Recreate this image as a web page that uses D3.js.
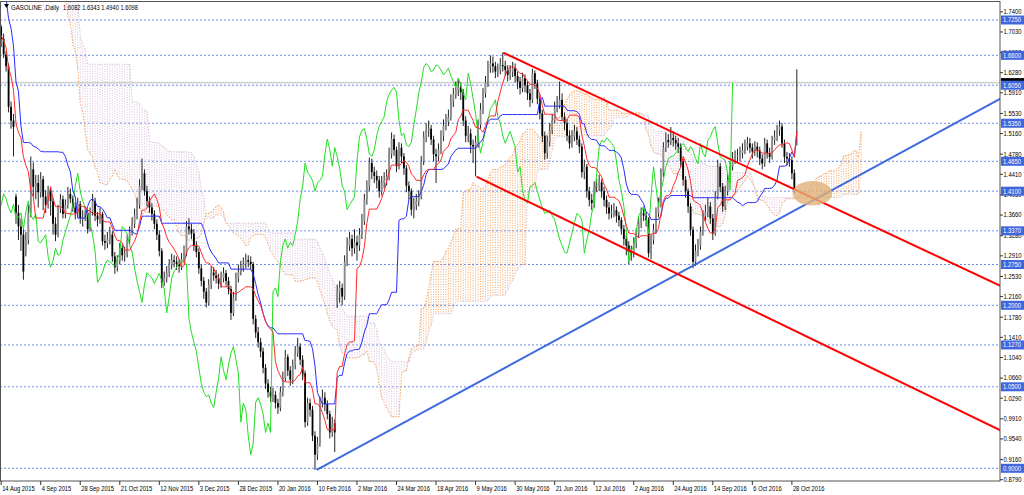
<!DOCTYPE html>
<html><head><meta charset="utf-8">
<script src="https://cdn.jsdelivr.net/npm/d3@7"></script>
<style>body{margin:0;background:#fff}svg{display:block}text{font-family:"Liberation Sans",Arial,sans-serif}</style>
</head><body><svg id="c" width="1024" height="495"></svg>
<script>
// ---------- DATA ----------
const symbolName = "GASOLINE`,Daily";
const lastOHLC = ["1.6082", "1.6343", "1.4940", "1.6098"];
const bidPrice = 1.6098;

// warm-up bars before the first visible bar (for the Ichimoku calculation)
const preOpen = [2.000,2.010,2.025,2.000,1.985,2.005,2.020,1.995,1.975,1.990,2.010,1.998,1.980,1.965,1.985,
1.970,1.960,1.945,1.970,1.990,2.010,1.985,1.960,1.940,1.955,1.975,1.990,2.000,
1.905,1.880,1.865,1.885,1.870,1.850,1.860,
1.750,1.740,1.720,1.735,1.745,1.725,1.730,1.720,1.715,
1.700,1.690,1.700,1.695,1.705,1.690,1.700,1.710];
const preHigh = [2.018,2.032,2.030,2.008,2.012,2.028,2.026,2.000,1.998,2.018,2.015,2.004,1.988,1.992,1.990,
1.978,1.965,1.978,1.998,2.018,2.015,1.992,1.968,1.962,1.982,1.998,2.012,2.040,
1.910,1.890,1.900,1.895,1.880,1.872,1.868,
1.760,1.745,1.742,1.752,1.750,1.738,1.735,1.728,1.720,
1.708,1.712,1.710,1.715,1.712,1.708,1.718,1.716];
const preLow = [1.985,2.000,1.990,1.975,1.978,1.998,1.985,1.965,1.968,1.982,1.990,1.970,1.955,1.958,1.960,
1.950,1.935,1.940,1.962,1.982,1.975,1.950,1.930,1.932,1.948,1.968,1.980,1.925,
1.870,1.855,1.858,1.862,1.842,1.840,1.822,
1.725,1.712,1.715,1.728,1.718,1.720,1.710,1.705,1.690,
1.678,1.682,1.685,1.688,1.680,1.685,1.695,1.692];
const preClose = [2.010,2.025,2.000,1.985,2.005,2.020,1.995,1.975,1.990,2.010,1.998,1.980,1.965,1.985,1.970,
1.960,1.945,1.970,1.990,2.010,1.985,1.960,1.940,1.955,1.975,1.990,2.005,1.930,
1.880,1.865,1.885,1.870,1.850,1.860,1.830,
1.740,1.720,1.735,1.745,1.725,1.730,1.720,1.715,1.700,
1.690,1.700,1.695,1.705,1.690,1.700,1.710,1.705];

// visible daily bars, 14 Aug 2015 .. 1 Nov 2016
const open = [1.712,1.690,1.662,1.640,1.565,1.540,1.400,1.370,1.345,1.330,
1.300,1.320,1.370,1.450,1.418,1.425,1.408,1.432,1.400,1.385,
1.410,1.392,1.350,1.330,1.378,1.395,1.368,1.385,1.405,1.396,
1.380,1.370,1.386,1.360,1.362,1.370,1.340,1.372,1.392,1.365,
1.358,1.368,1.318,1.315,1.322,1.330,1.290,1.270,1.282,1.305,
1.292,1.295,1.320,1.335,1.350,1.365,1.385,1.420,1.443,1.410,
1.392,1.380,1.368,1.350,1.330,1.300,1.242,1.250,1.260,1.275,
1.283,1.280,1.276,1.272,1.285,1.296,1.345,1.340,1.332,1.310,
1.298,1.268,1.245,1.225,1.205,1.238,1.260,1.255,1.250,1.240,
1.250,1.259,1.245,1.230,1.186,1.215,1.250,1.262,1.270,1.276,
1.283,1.280,1.276,1.175,1.150,1.132,1.115,1.085,1.056,1.040,
1.032,1.035,1.020,1.012,1.040,1.066,1.105,1.080,1.063,1.090,
1.112,1.124,1.100,1.075,0.985,1.020,1.008,0.960,0.925,0.946,
1.022,1.030,1.018,1.000,0.966,0.983,1.205,1.225,1.232,1.216,
1.280,1.310,1.322,1.305,1.316,1.310,1.330,1.355,1.395,1.418,
1.462,1.445,1.438,1.430,1.410,1.425,1.430,1.437,1.478,1.506,
1.486,1.456,1.490,1.474,1.452,1.420,1.410,1.376,1.385,1.392,
1.400,1.465,1.510,1.522,1.525,1.505,1.478,1.474,1.486,1.512,
1.530,1.538,1.547,1.575,1.588,1.596,1.601,1.592,1.540,1.512,
1.516,1.495,1.492,1.500,1.532,1.560,1.590,1.610,1.638,1.645,
1.640,1.630,1.633,1.642,1.640,1.633,1.624,1.630,1.636,1.622,
1.612,1.600,1.618,1.605,1.590,1.578,1.627,1.608,1.580,1.553,
1.512,1.480,1.500,1.522,1.540,1.562,1.568,1.578,1.547,1.535,
1.512,1.498,1.510,1.520,1.505,1.492,1.445,1.455,1.410,1.394,
1.388,1.418,1.420,1.426,1.410,1.394,1.380,1.369,1.372,1.375,
1.365,1.357,1.340,1.322,1.310,1.298,1.296,1.315,1.332,1.352,
1.369,1.365,1.357,1.296,1.320,1.339,1.370,1.385,1.443,1.490,
1.504,1.500,1.508,1.504,1.498,1.492,1.465,1.431,1.410,1.382,
1.339,1.280,1.300,1.310,1.335,1.365,1.372,1.382,1.360,1.332,
1.400,1.455,1.418,1.382,1.410,1.431,1.455,1.470,1.473,1.475,
1.480,1.486,1.492,1.498,1.490,1.483,1.492,1.485,1.470,1.461,
1.498,1.480,1.473,1.504,1.510,1.522,1.529,1.498,1.473,1.470,
1.467,1.443,1.6082];
const high = [1.716,1.700,1.668,1.645,1.575,1.552,1.405,1.385,1.360,1.340,
1.335,1.385,1.474,1.463,1.440,1.440,1.445,1.438,1.412,1.420,
1.418,1.398,1.362,1.385,1.405,1.402,1.395,1.418,1.415,1.402,
1.390,1.398,1.392,1.375,1.382,1.376,1.380,1.405,1.398,1.372,
1.380,1.372,1.330,1.335,1.345,1.336,1.298,1.292,1.315,1.312,
1.308,1.330,1.345,1.362,1.378,1.398,1.432,1.470,1.450,1.420,
1.400,1.388,1.375,1.358,1.338,1.305,1.262,1.272,1.285,1.295,
1.292,1.290,1.285,1.296,1.310,1.355,1.360,1.350,1.340,1.318,
1.305,1.275,1.252,1.232,1.248,1.272,1.270,1.265,1.258,1.262,
1.270,1.265,1.252,1.236,1.225,1.260,1.275,1.282,1.288,1.295,
1.292,1.290,1.280,1.182,1.160,1.140,1.122,1.092,1.064,1.050,
1.048,1.042,1.028,1.050,1.078,1.118,1.110,1.088,1.100,1.125,
1.140,1.130,1.108,1.080,1.030,1.028,1.015,0.968,0.958,1.032,
1.045,1.040,1.025,1.006,0.995,0.990,1.238,1.245,1.240,1.292,
1.325,1.335,1.330,1.340,1.328,1.342,1.368,1.405,1.430,1.472,
1.470,1.455,1.448,1.438,1.438,1.445,1.450,1.490,1.518,1.514,
1.492,1.500,1.498,1.480,1.458,1.428,1.415,1.398,1.405,1.412,
1.475,1.520,1.535,1.540,1.532,1.512,1.488,1.498,1.522,1.542,
1.552,1.560,1.588,1.600,1.612,1.618,1.610,1.598,1.548,1.530,
1.525,1.505,1.512,1.542,1.572,1.600,1.622,1.650,1.660,1.658,
1.648,1.645,1.655,1.665,1.650,1.642,1.642,1.648,1.645,1.630,
1.620,1.628,1.625,1.612,1.598,1.635,1.632,1.615,1.588,1.560,
1.520,1.512,1.535,1.552,1.575,1.585,1.612,1.590,1.555,1.542,
1.522,1.522,1.532,1.528,1.512,1.498,1.468,1.460,1.418,1.405,
1.428,1.432,1.440,1.432,1.418,1.402,1.390,1.385,1.388,1.382,
1.372,1.362,1.348,1.330,1.318,1.310,1.325,1.342,1.362,1.380,
1.378,1.372,1.362,1.330,1.350,1.380,1.398,1.452,1.500,1.518,
1.515,1.528,1.520,1.512,1.508,1.498,1.470,1.438,1.415,1.388,
1.345,1.312,1.322,1.345,1.375,1.385,1.398,1.390,1.368,1.410,
1.468,1.462,1.425,1.420,1.442,1.465,1.482,1.485,1.488,1.492,
1.498,1.505,1.510,1.508,1.498,1.502,1.500,1.492,1.478,1.508,
1.505,1.490,1.512,1.522,1.532,1.540,1.535,1.505,1.482,1.480,
1.474,1.450,1.6343];
const low = [1.675,1.655,1.630,1.555,1.525,1.474,1.350,1.320,1.300,1.247,
1.290,1.312,1.362,1.400,1.395,1.380,1.398,1.375,1.370,1.378,
1.365,1.330,1.318,1.325,1.370,1.360,1.360,1.378,1.388,1.372,
1.358,1.362,1.350,1.345,1.355,1.332,1.336,1.365,1.355,1.345,
1.350,1.310,1.302,1.305,1.312,1.280,1.258,1.262,1.275,1.282,
1.280,1.288,1.312,1.328,1.342,1.358,1.378,1.412,1.402,1.382,
1.370,1.356,1.340,1.320,1.290,1.232,1.236,1.242,1.252,1.266,
1.270,1.265,1.260,1.265,1.278,1.290,1.330,1.322,1.300,1.288,
1.258,1.235,1.212,1.196,1.200,1.230,1.245,1.240,1.230,1.232,
1.242,1.236,1.220,1.173,1.180,1.208,1.242,1.255,1.262,1.268,
1.270,1.266,1.165,1.140,1.122,1.104,1.075,1.046,1.030,1.022,
1.022,1.010,1.000,1.005,1.032,1.060,1.070,1.052,1.055,1.082,
1.105,1.090,1.062,0.975,0.978,0.995,0.950,0.897,0.915,0.940,
1.012,1.005,0.990,0.955,0.958,0.930,1.195,1.205,1.200,1.210,
1.272,1.300,1.290,1.295,1.282,1.300,1.322,1.348,1.385,1.410,
1.432,1.425,1.415,1.398,1.402,1.415,1.420,1.430,1.470,1.475,
1.445,1.450,1.462,1.440,1.408,1.395,1.365,1.360,1.375,1.382,
1.395,1.458,1.500,1.510,1.495,1.465,1.425,1.465,1.478,1.502,
1.522,1.530,1.540,1.565,1.580,1.585,1.578,1.530,1.500,1.500,
1.480,1.462,1.437,1.490,1.525,1.552,1.582,1.602,1.628,1.628,
1.618,1.620,1.625,1.630,1.622,1.612,1.615,1.620,1.610,1.598,
1.588,1.592,1.592,1.578,1.565,1.572,1.598,1.570,1.542,1.500,
1.468,1.470,1.492,1.515,1.535,1.555,1.562,1.540,1.522,1.502,
1.488,1.490,1.502,1.495,1.480,1.435,1.432,1.398,1.382,1.375,
1.380,1.408,1.410,1.398,1.382,1.368,1.358,1.360,1.362,1.352,
1.345,1.330,1.310,1.292,1.276,1.282,1.288,1.305,1.325,1.342,
1.355,1.345,1.288,1.285,1.312,1.332,1.362,1.380,1.436,1.482,
1.490,1.495,1.492,1.486,1.480,1.455,1.420,1.398,1.370,1.328,
1.268,1.272,1.290,1.302,1.328,1.355,1.362,1.350,1.320,1.328,
1.395,1.408,1.372,1.375,1.402,1.425,1.448,1.460,1.462,1.465,
1.470,1.478,1.485,1.480,1.470,1.475,1.472,1.458,1.450,1.455,
1.470,1.462,1.468,1.495,1.502,1.512,1.490,1.462,1.458,1.455,
1.432,1.405,1.4940];
const close = [1.690,1.662,1.640,1.565,1.540,1.528,1.370,1.345,1.330,1.262,
1.320,1.370,1.450,1.418,1.425,1.408,1.432,1.400,1.385,1.410,
1.392,1.350,1.330,1.378,1.395,1.368,1.385,1.405,1.396,1.380,
1.370,1.386,1.360,1.362,1.370,1.340,1.372,1.392,1.365,1.358,
1.368,1.318,1.315,1.322,1.330,1.290,1.270,1.282,1.305,1.292,
1.295,1.320,1.335,1.350,1.365,1.385,1.420,1.443,1.410,1.392,
1.380,1.368,1.350,1.330,1.300,1.242,1.250,1.260,1.275,1.283,
1.280,1.276,1.272,1.285,1.296,1.345,1.340,1.332,1.310,1.298,
1.268,1.245,1.225,1.205,1.238,1.260,1.255,1.250,1.240,1.250,
1.259,1.245,1.230,1.186,1.215,1.250,1.262,1.270,1.276,1.283,
1.280,1.276,1.175,1.150,1.132,1.115,1.085,1.056,1.040,1.032,
1.035,1.020,1.012,1.040,1.066,1.105,1.080,1.063,1.090,1.112,
1.124,1.100,1.075,0.985,1.020,1.008,0.960,0.925,0.946,1.022,
1.030,1.018,1.000,0.966,0.983,0.966,1.225,1.232,1.216,1.280,
1.310,1.322,1.305,1.316,1.310,1.330,1.355,1.395,1.418,1.462,
1.445,1.438,1.430,1.410,1.425,1.430,1.437,1.478,1.506,1.486,
1.456,1.490,1.474,1.452,1.420,1.410,1.376,1.385,1.392,1.400,
1.465,1.510,1.522,1.525,1.505,1.478,1.474,1.486,1.512,1.530,
1.538,1.547,1.575,1.588,1.596,1.601,1.592,1.540,1.512,1.516,
1.495,1.492,1.500,1.532,1.560,1.590,1.610,1.638,1.645,1.640,
1.630,1.633,1.642,1.640,1.633,1.624,1.630,1.636,1.622,1.612,
1.600,1.618,1.605,1.590,1.578,1.627,1.608,1.580,1.553,1.512,
1.480,1.500,1.522,1.540,1.562,1.568,1.578,1.547,1.535,1.512,
1.498,1.510,1.520,1.505,1.492,1.445,1.455,1.410,1.394,1.388,
1.418,1.420,1.426,1.410,1.394,1.380,1.369,1.372,1.375,1.365,
1.357,1.340,1.322,1.310,1.298,1.296,1.315,1.332,1.352,1.369,
1.365,1.357,1.296,1.320,1.339,1.370,1.385,1.443,1.490,1.504,
1.500,1.508,1.504,1.498,1.492,1.465,1.431,1.410,1.382,1.339,
1.280,1.300,1.310,1.335,1.365,1.372,1.382,1.360,1.332,1.400,
1.455,1.418,1.382,1.410,1.431,1.455,1.470,1.473,1.475,1.480,
1.486,1.492,1.498,1.490,1.483,1.492,1.485,1.470,1.461,1.498,
1.480,1.473,1.504,1.510,1.522,1.529,1.498,1.473,1.470,1.467,
1.443,1.412,1.6098];

const dateLabels = ["14 Aug 2015","4 Sep 2015","28 Sep 2015","21 Oct 2015","12 Nov 2015","3 Dec 2015","28 Dec 2015","20 Jan 2016","10 Feb 2016","2 Mar 2016","24 Mar 2016","18 Apr 2016","9 May 2016","30 May 2016","21 Jun 2016","12 Jul 2016","2 Aug 2016","24 Aug 2016","14 Sep 2016","6 Oct 2016","28 Oct 2016"];
const dateBars = [0,16,32,48,64,80,96,112,128,144,160,176,192,208,224,240,256,272,288,304,320];
const priceTicks = ["1.7400","1.7030","1.6650","1.6280","1.5910","1.5530","1.5160","1.4780","1.4410","1.4030","1.3660","1.3280","1.2910","1.2530","1.2160","1.1780","1.1410","1.1040","1.0660","1.0290","0.9910","0.9540","0.9160","0.8790"];
const levels = ["1.7250","1.6600","1.6050","1.5350","1.4650","1.4100","1.3370","1.2750","1.2000","1.1270","1.0500","0.9000"];

// drawn objects (bar index, price)
const channelUpper = [[203.2, 1.6648], [320, 1.4157]];
const channelLower = [[192.4, 1.4366], [320, 1.1558]];
const supportLine  = [[127.7, 0.8969], [320, 1.3717]];
const ellipseObj = {bar: 328.3, price: 1.4061, halfBars: 8.0, halfPrice: 0.0226};

// ---------- CHECK ----------
[open, high, low].forEach(a => { if (a.length !== close.length) throw new Error("length mismatch " + a.length + " vs " + close.length); });
[preOpen, preHigh, preLow].forEach(a => { if (a.length !== preClose.length) throw new Error("pre length mismatch " + a.length); });

// ---------- SCALES ----------
const W = 1024, H = 495, plotR = 1000, plotB = 481;
const x = d3.scaleLinear().domain([0, 322]).range([1.16, 1.16 + 322 * 2.471]);
const y = d3.scaleLinear().domain([0.9, 1.725]).range([468.3, 20]);

const svg = d3.select("#c");
svg.append("rect").attr("width", W).attr("height", H).attr("fill", "#fff");
const defs = svg.append("defs");
defs.append("clipPath").attr("id", "clip").append("rect")
  .attr("x", 1).attr("y", 1).attr("width", plotR - 1).attr("height", plotB - 1);
const g = svg.append("g").attr("clip-path", "url(#clip)");

// ---------- ICHIMOKU ----------
const P = preClose.length;
const Hs = preHigh.concat(high), Ls = preLow.concat(low);
function mid(k, n) {
  if (k - n + 1 < 0) return null;
  let hi = -Infinity, lo = Infinity;
  for (let j = k - n + 1; j <= k; j++) { hi = Math.max(hi, Hs[j]); lo = Math.min(lo, Ls[j]); }
  return (hi + lo) / 2;
}
const tenkan = [], kijun = [], spanA = [], spanB = [];
for (let k = 0; k < Hs.length; k++) {
  const bar = k - P;
  const t = mid(k, 9), kv = mid(k, 26), b52 = mid(k, 52);
  if (t !== null) tenkan.push([bar, t]);
  if (kv !== null) kijun.push([bar, kv]);
  if (t !== null && kv !== null) spanA.push([bar + 26, (t + kv) / 2]);
  if (b52 !== null) spanB.push([bar + 26, b52]);
}
const chikou = close.map((c, i) => [i - 26, c]);
const line = d3.line().x(d => x(d[0])).y(d => y(d[1]));

// ---------- GRID LEVELS ----------
g.selectAll(".lvl").data(levels).join("line")
  .attr("x1", 0).attr("x2", plotR).attr("y1", d => y(+d)).attr("y2", d => y(+d))
  .attr("stroke", "#6d8cec").attr("stroke-width", 1).attr("stroke-dasharray", "2,2");

// bid line
g.append("line").attr("x1", 0).attr("x2", plotR).attr("y1", y(bidPrice)).attr("y2", y(bidPrice))
  .attr("stroke", "#d4d4d4").attr("stroke-width", 1.6);

// ---------- CLOUD ----------
const sbMap = new Map(spanB.map(d => [d[0], d[1]]));
const cloud = spanA.filter(d => sbMap.has(d[0])).map(d => ({bar: d[0], a: d[1], b: sbMap.get(d[0])}));
g.selectAll(".cl").data(cloud).join("line")
  .attr("x1", d => x(d.bar)).attr("x2", d => x(d.bar))
  .attr("y1", d => y(d.a)).attr("y2", d => y(d.b))
  .attr("stroke", d => d.a >= d.b ? "#f4a460" : "#d8bfd8")
  .attr("stroke-width", 1).attr("stroke-dasharray", "1,1.5");
g.append("path").attr("d", line(spanA)).attr("fill", "none").attr("stroke", "#f4a460").attr("stroke-width", 1).attr("stroke-dasharray", "1.5,1.5");
g.append("path").attr("d", line(spanB)).attr("fill", "none").attr("stroke", "#d8bfd8").attr("stroke-width", 1).attr("stroke-dasharray", "1.5,1.5");

// ---------- CANDLES ----------
const bars = close.map((c, i) => ({i, o: open[i], h: high[i], l: low[i], c}));
g.selectAll(".wick").data(bars).join("line")
  .attr("x1", d => x(d.i)).attr("x2", d => x(d.i))
  .attr("y1", d => y(Math.max(d.h, d.o, d.c))).attr("y2", d => y(Math.min(d.l, d.o, d.c)))
  .attr("stroke", "#222").attr("stroke-width", 1);
g.selectAll(".body").data(bars).join("rect")
  .attr("x", d => x(d.i) - 0.9).attr("width", 1.8)
  .attr("y", d => y(Math.max(d.o, d.c)))
  .attr("height", d => Math.max(0.8, Math.abs(y(d.o) - y(d.c))))
  .attr("fill", d => d.c >= d.o ? "#8c8c8c" : "#000");

// ---------- INDICATOR LINES ----------
g.append("path").attr("d", line(chikou)).attr("fill", "none").attr("stroke", "#22dd22").attr("stroke-width", 1);
g.append("path").attr("d", line(kijun)).attr("fill", "none").attr("stroke", "#2b2bff").attr("stroke-width", 1);
g.append("path").attr("d", line(tenkan)).attr("fill", "none").attr("stroke", "#ff2a2a").attr("stroke-width", 1);

// ---------- TRENDLINES (rays) ----------
const xEnd = x.invert(plotR + 5);
function ray(p) {
  const s = (p[1][1] - p[0][1]) / (p[1][0] - p[0][0]);
  return [p[0], [xEnd, p[0][1] + s * (xEnd - p[0][0])]];
}
g.append("path").attr("d", line(ray(supportLine))).attr("stroke", "#3f6ae0").attr("stroke-width", 2).attr("fill", "none");
g.append("path").attr("d", line(ray(channelUpper))).attr("stroke", "#ff0000").attr("stroke-width", 2).attr("fill", "none");
g.append("path").attr("d", line(ray(channelLower))).attr("stroke", "#ff0000").attr("stroke-width", 2).attr("fill", "none");

// ellipse
g.append("ellipse")
  .attr("cx", x(ellipseObj.bar)).attr("cy", y(ellipseObj.price))
  .attr("rx", x(ellipseObj.bar + ellipseObj.halfBars) - x(ellipseObj.bar))
  .attr("ry", y(ellipseObj.price - ellipseObj.halfPrice) - y(ellipseObj.price))
  .attr("fill", "#dfb27a").attr("opacity", 0.8);

// ---------- FRAME ----------
svg.append("rect").attr("x", 0.5).attr("y", 1.5).attr("width", plotR - 0.5).attr("height", plotB - 1.5)
  .attr("fill", "none").attr("stroke", "#555").attr("stroke-width", 1);

// text helpers
function natural(str, size) {
  const t = svg.append("text").attr("font-size", size).text(str);
  const w = t.node().getComputedTextLength(); t.remove(); return w;
}
function fit(sel, factor) {
  sel.each(function () {
    const w = this.getComputedTextLength();
    d3.select(this).attr("textLength", w * factor).attr("lengthAdjust", "spacingAndGlyphs");
  });
}
const FS = 6.5;
const fPrice = 18 / natural("1.7400", FS);
const fDate = 32.5 / natural("14 Aug 2015", FS);

// ---------- PRICE AXIS ----------
const axR = svg.append("g");
axR.selectAll(".tk").data(priceTicks).join("line")
  .attr("x1", plotR).attr("x2", plotR + 3).attr("y1", d => y(+d)).attr("y2", d => y(+d)).attr("stroke", "#333");
axR.selectAll(".tl").data(priceTicks).join("text")
  .attr("x", plotR + 3.5).attr("y", d => y(+d) + 2.4).attr("font-size", FS).attr("fill", "#000").text(d => d)
  .call(fit, fPrice);

// bid label (black box, covered by the 1.6050 level box)
svg.append("rect").attr("x", plotR + 1).attr("y", y(bidPrice) - 4.5).attr("width", 23).attr("height", 9).attr("fill", "#000");

// level labels (blue boxes)
const lvG = svg.append("g");
lvG.selectAll("rect").data(levels).join("rect")
  .attr("x", plotR + 1).attr("y", d => y(+d) - 4.5).attr("width", 23).attr("height", 9).attr("fill", "#3f66dd");
lvG.selectAll("text").data(levels).join("text")
  .attr("x", plotR + 3).attr("y", d => y(+d) + 2.4).attr("font-size", FS).attr("fill", "#fff").text(d => d)
  .call(fit, fPrice);

// ---------- DATE AXIS ----------
const axB = svg.append("g");
axB.selectAll("line").data(dateBars).join("line")
  .attr("x1", d => x(d)).attr("x2", d => x(d)).attr("y1", plotB).attr("y2", plotB + 4).attr("stroke", "#333");
axB.selectAll("text").data(dateLabels).join("text")
  .attr("x", (d, i) => x(dateBars[i]) + 1).attr("y", plotB + 10).attr("font-size", FS).attr("fill", "#000").text(d => d)
  .call(fit, fDate);

// ---------- TITLE ----------
svg.append("path").attr("d", "M4,4 L9,4 L6.5,8 Z").attr("fill", "#000");
svg.append("text").attr("x", 11).attr("y", 9.5).attr("font-size", FS).attr("fill", "#000").text(symbolName)
  .call(fit, 48 / natural(symbolName, FS));
svg.append("text").attr("x", 63).attr("y", 9.5).attr("font-size", FS).attr("fill", "#000").text(lastOHLC.join(" "))
  .call(fit, 75 / natural(lastOHLC.join(" "), FS));
</script></body></html>
